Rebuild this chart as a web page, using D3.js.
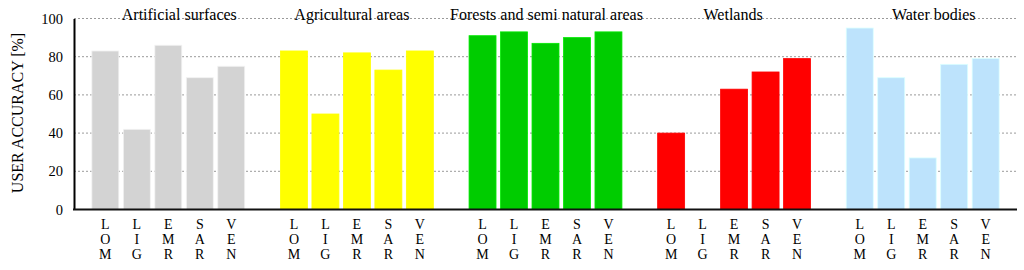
<!DOCTYPE html>
<html>
<head>
<meta charset="utf-8">
<script src="https://cdn.jsdelivr.net/npm/d3@7"></script>
<style>
  html, body { margin: 0; padding: 0; background: #fff; }
  #chart { width: 1024px; height: 270px; }
  svg text { font-family: "Liberation Serif", "Times New Roman", serif; fill: #000; }
</style>
</head>
<body>
<div id="chart"></div>
<script>
// categories and sensors
const groups = ["Artificial surfaces", "Agricultural areas", "Forests and semi natural areas", "Wetlands", "Water bodies"];
const sensors = ["LOM", "LIG", "EMR", "SAR", "VEN"];

// user accuracy [%] per group, in sensor order
const artificial = [83, 42, 86, 69, 75];
const agricultural = [83, 50, 82, 73, 83];
const forests = [91, 93, 87, 90, 93];
const wetlands = [40, 0, 63, 72, 79];
const water = [95, 69, 27, 76, 79];

const yTicks = [0, 20, 40, 60, 80, 100];

const groupColors = ["#d3d3d3", "#ffff00", "#00cc00", "#ff0000", "#bde3fc"];
// small manual nudges of the group titles, as in the original figure
const titleShift = [11, -5, 1, -1, 11];

const serif = "Liberation Serif";

function draw() {
  d3.select("#chart").selectAll("*").remove();

  const values = [artificial, agricultural, forests, wetlands, water];
  const data = groups.flatMap((g, gi) =>
    sensors.map((s, si) => ({ group: g, sensor: s, value: values[gi][si], color: groupColors[gi] }))
  );

  const w = 1024, h = 270;
  const left = 74, right = 1017, top = 18.5, bottom = 209.5;

  const svg = d3.select("#chart")
    .append("svg")
    .attr("width", w)
    .attr("height", h)
    .attr("viewBox", `0 0 ${w} ${h}`);

  const x0 = d3.scaleBand()
    .domain(groups)
    .range([left, right])
    .padding(0);

  const x1 = d3.scaleBand()
    .domain(sensors)
    .range([0, x0.bandwidth()])
    .paddingInner(0.143)
    .paddingOuter(0.567);

  const y = d3.scaleLinear()
    .domain([0, 100])
    .range([bottom, top]);

  // dotted gridlines
  svg.append("g")
    .selectAll("line")
    .data(yTicks.filter(d => d > 0))
    .join("line")
    .attr("x1", left)
    .attr("x2", right)
    .attr("y1", d => y(d))
    .attr("y2", d => y(d))
    .attr("stroke", "#9a9a9a")
    .attr("stroke-width", 1)
    .attr("stroke-dasharray", "2,2");

  // bars
  svg.append("g")
    .selectAll("rect")
    .data(data.filter(d => d.value > 0))
    .join("rect")
    .attr("x", d => x0(d.group) + x1(d.sensor))
    .attr("y", d => y(d.value))
    .attr("width", x1.bandwidth())
    .attr("height", d => y(0) - y(d.value))
    .attr("fill", d => d.color)
    .attr("stroke", d => d3.color(d.color).brighter(0.4))
    .attr("stroke-width", 0.8);

  // y axis
  const yAxis = d3.axisLeft(y)
    .tickValues(yTicks)
    .tickSize(0)
    .tickPadding(11);

  const gy = svg.append("g")
    .attr("transform", `translate(${left},0)`)
    .call(yAxis)
    .attr("font-family", serif)
    .attr("font-size", 14.5);
  gy.select(".domain").attr("stroke", "#000").attr("stroke-width", 2);
  gy.selectAll("text").attr("fill", "#000");

  svg.append("line")
    .attr("x1", left - 1)
    .attr("x2", right)
    .attr("y1", y(0))
    .attr("y2", y(0))
    .attr("stroke", "#111")
    .attr("stroke-width", 2);

  // stacked sensor labels, one letter per line
  const letters = data.flatMap(d =>
    d.sensor.split("").map((c, i) => ({ group: d.group, sensor: d.sensor, ch: c, row: i }))
  );
  svg.append("g")
    .selectAll("text")
    .data(letters)
    .join("text")
    .attr("x", d => x0(d.group) + x1(d.sensor) + x1.bandwidth() / 2)
    .attr("y", d => 229 + d.row * 15)
    .attr("text-anchor", "middle")
    .attr("font-size", 14)
    .text(d => d.ch);

  // group titles
  svg.append("g")
    .selectAll("text")
    .data(groups)
    .join("text")
    .attr("x", (d, i) => x0(d) + x0.bandwidth() / 2 + titleShift[i])
    .attr("y", 19.5)
    .attr("text-anchor", "middle")
    .attr("font-size", 16)
    .text(d => d);

  // y axis title
  svg.append("text")
    .attr("transform", `translate(17, ${(top + bottom) / 2 - 1}) rotate(-90)`)
    .attr("text-anchor", "middle")
    .attr("dominant-baseline", "central")
    .attr("font-size", 16)
    .text("USER ACCURACY [%]");
}

draw();
</script>
</body>
</html>
